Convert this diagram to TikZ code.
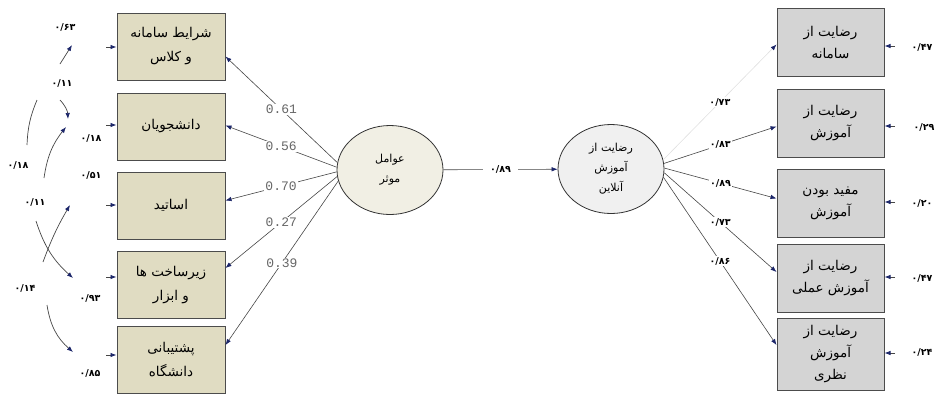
\documentclass[tikz,border=0pt]{standalone}
\usepackage{fontspec}
\usepackage{tikz}
\usetikzlibrary{arrows.meta,shapes.geometric}
\TeXXeTstate=1
\newfontfamily\farsi[Script=Arabic]{DejaVu Sans}
\setmonofont{Liberation Mono}
\definecolor{beige}{RGB}{224,220,194}
\definecolor{boxgray}{RGB}{212,212,212}
\definecolor{linegray}{RGB}{70,70,70}
\definecolor{tipblue}{RGB}{28,38,105}
\newcommand{\fa}[1]{{\farsi\beginR #1\endR}}

\begin{document}
\begin{tikzpicture}[x=1pt, y=-1pt,
	leftbox/.style = {shape=rectangle, draw=black!70, line width=1pt, align=center, fill=beige, minimum height=67pt, minimum width=108pt, font=\farsi\fontsize{13.5}{24}\selectfont},
	rightbox/.style = {shape=rectangle, draw=black!70, line width=1pt, align=center, fill=boxgray, minimum height=68pt, minimum width=107pt, font=\farsi\fontsize{13.5}{22}\selectfont},
	latent/.style = {shape=ellipse, draw=black!80, line width=0.8pt, align=center, minimum width=106pt, minimum height=89pt, font=\farsi\fontsize{11}{20}\selectfont},
	load/.style = {draw=linegray, line width=0.6pt, -{Latex[length=6pt, width=4.5pt, color=tipblue]}},
	err/.style = {draw=linegray, line width=0.8pt, -{Latex[length=6pt, width=4.5pt, color=tipblue]}},
	cov/.style = {draw=linegray, line width=0.7pt},
	coef/.style = {font=\ttfamily\fontsize{13}{13}\selectfont, text=black!60, fill=white, inner sep=1pt},
	num/.style = {font=\farsi\bfseries\fontsize{9.5}{10}\selectfont, inner sep=1pt}]
	\useasboundingbox (0,0) rectangle (941,397);

	% left side
	\node[leftbox] (b1) at (171,46.5) {\fa{شرایط سامانه}\\\fa{و کلاس}};
	\node[leftbox] (b2) at (171,126.5) {\fa{دانشجویان}};
	\node[leftbox] (b3) at (171,205.5) {\fa{اساتید}};
	\node[leftbox] (b4) at (171,285) {\fa{زیرساخت ها}\\\fa{و ابزار}};
	\node[leftbox] (b5) at (171,360) {\fa{پشتیبانی}\\\fa{دانشگاه}};
	\node[latent, fill=beige!45] (f) at (390,170) {\fa{عوامل}\\\fa{موثر}};

	% right side
	\node[latent, fill=black!6] (s) at (611,169) {\fa{رضایت از}\\\fa{آموزش}\\\fa{آنلاین}};
	\node[rightbox] (r1) at (830.5,42.5) {\fa{رضایت از}\\\fa{سامانه}};
	\node[rightbox] (r2) at (830.5,123.5) {\fa{رضایت از}\\\fa{آموزش}};
	\node[rightbox] (r3) at (830.5,203.5) {\fa{مفید بودن}\\\fa{آموزش}};
	\node[rightbox] (r4) at (830.5,278) {\fa{رضایت از}\\\fa{آموزش عملی}};
	\node[rightbox, minimum height=72pt] (r5) at (830.5,354) {\fa{رضایت از}\\\fa{آموزش}\\\fa{نظری}};

	\draw[load] (f.172) -- node[coef]{0.61} ([yshift=-10pt]b1.east);
	\draw[load] (f.177) -- node[coef]{0.56} ([yshift=1pt]b2.east);
	\draw[load] (f.182) -- node[coef]{0.70} ([yshift=5pt]b3.east);
	\draw[load] (f.187) -- node[coef]{0.27} ([yshift=17pt]b4.east);
	\draw[load] (f.192) -- node[coef]{0.39} ([yshift=15pt]b5.east);

	\draw[load] (f) -- node[num, fill=white, inner sep=7pt]{۰/۸۹} (s);

	\draw[load, draw=black!12] (s.10) -- node[num, fill=white]{۰/۷۳} ([yshift=-2pt]r1.west);
	\draw[load] (s.6) -- node[num, fill=white]{۰/۸۳} ([yshift=-3pt]r2.west);
	\draw[load] (s.1) -- node[num, fill=white]{۰/۸۹} ([yshift=5pt]r3.west);
	\draw[load] (s.-4) -- node[num, fill=white]{۰/۷۳} ([yshift=6pt]r4.west);
	\draw[load] (s.-9) -- node[num, fill=white]{۰/۸۶} ([yshift=9pt]r5.west);

	% error terms
	\foreach \b/\y in {b1/47, b2/125, b3/205, b4/277, b5/355}
		\draw[err] (106,\y) -- (\b.west |- 0,\y);
	\foreach \b/\y in {r1/46, r2/126, r3/202, r4/277, r5/353}
		\draw[err] (895,\y) -- (\b.east |- 0,\y);

	\node[num] (n1) at (65,27) {۰/۶۳};
	\node[num] (n2) at (62,83) {۰/۱۱};
	\node[num] (n3) at (91,138) {۰/۱۸};
	\node[num] (n4) at (18,165) {۰/۱۸};
	\node[num] (n5) at (91,175) {۰/۵۱};
	\node[num] (n6) at (35,202) {۰/۱۱};
	\node[num] (n7) at (25,288) {۰/۱۴};
	\node[num] (n8) at (90,298) {۰/۹۳};
	\node[num] (n9) at (90,373) {۰/۸۵};

	\node[num] (m1) at (922,47) {۰/۴۷};
	\node[num] (m2) at (924,127) {۰/۲۹};
	\node[num] (m3) at (922,203) {۰/۲۰};
	\node[num] (m4) at (922,278) {۰/۴۷};
	\node[num] (m5) at (922,352) {۰/۲۴};

	% covariances
	\coordinate (c1a) at (60,64);
	\coordinate (c1b) at (72,45);
	\coordinate (c2a) at (60,100);
	\coordinate (c2b) at (68,119);
	\coordinate (c3a) at (44,178);
	\coordinate (c3b) at (66,127);
	\coordinate (c4a) at (37,100);
	\coordinate (c4b) at (27,145);
	\coordinate (c5a) at (36,221);
	\coordinate (c5b) at (73,278);
	\coordinate (c6a) at (43,262);
	\coordinate (c6b) at (70,205);
	\coordinate (c7a) at (47,305);
	\coordinate (c7b) at (73,352);
	\draw[cov, -{Latex[length=6pt, width=4.5pt, color=tipblue]}] (c1a) -- (c1b);
	\draw[cov, -{Latex[length=6pt, width=4.5pt, color=tipblue]}] (c2a) to[bend left=20] (c2b);
	\draw[cov, -{Latex[length=6pt, width=4.5pt, color=tipblue]}] (c3a) to[bend left=15] (c3b);
	\draw[cov] (c4a) to[bend right=10] (c4b);
	\draw[cov, -{Latex[length=6pt, width=4.5pt, color=tipblue]}] (c5a) to[bend right=15] (c5b);
	\draw[cov, -{Latex[length=6pt, width=4.5pt, color=tipblue]}] (c6a) to[bend left=5] (c6b);
	\draw[cov, -{Latex[length=6pt, width=4.5pt, color=tipblue]}] (c7a) to[bend right=20] (c7b);
\end{tikzpicture}
\end{document}
